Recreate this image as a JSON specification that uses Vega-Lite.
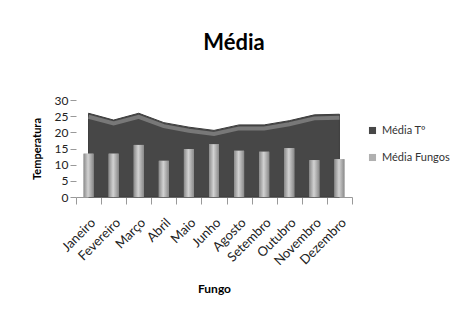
{
  "$schema": "https://vega.github.io/schema/vega-lite/v6.json",
  "width": 276,
  "height": 97,
  "autosize": {"type": "none"},
  "padding": {"left": 76, "top": 100, "right": 108, "bottom": 121},
  "background": "white",
  "config": {"font": "Lato", "view": {"stroke": null},
    "axisY": {"titleFontSize": 11, "titleFontWeight": "bold", "titleColor": "#000", "titlePadding": 12,
      "tickCount": 6, "labelOverlap": false, "labelFontSize": 12, "labelColor": "#222", "labelPadding": 2,
      "domain": false, "grid": false, "tickSize": 6, "tickColor": "#999"}},
  "title": {"text": "Média", "fontSize": 22, "fontWeight": "bold", "font": "Lato", "color": "#000", "offset": 39, "dx": 20},
  "data": {"values": [
    {"mes": "Janeiro", "temp": 25.9, "fungos": 13.4},
    {"mes": "Fevereiro", "temp": 23.8, "fungos": 13.4},
    {"mes": "Março", "temp": 25.9, "fungos": 16.1},
    {"mes": "Abril", "temp": 23.0, "fungos": 11.2},
    {"mes": "Maio", "temp": 21.6, "fungos": 14.8},
    {"mes": "Junho", "temp": 20.6, "fungos": 16.3},
    {"mes": "Agosto", "temp": 22.3, "fungos": 14.3},
    {"mes": "Setembro", "temp": 22.3, "fungos": 14.0},
    {"mes": "Outubro", "temp": 23.6, "fungos": 15.1},
    {"mes": "Novembro", "temp": 25.4, "fungos": 11.4},
    {"mes": "Dezembro", "temp": 25.6, "fungos": 11.7}
  ]},
  "encoding": {
    "x": {
      "field": "mes", "type": "nominal", "sort": null,
      "scale": {"paddingInner": 0, "paddingOuter": 0},
      "axis": {
        "title": "Fungo", "titleFontSize": 12, "titleFontWeight": "bold", "titleColor": "#000", "titlePadding": 16,
        "labelAngle": -45, "labelFontSize": 13, "labelColor": "#222", "labelPadding": 12,
        "tickBand": "extent", "tickSize": 7, "tickColor": "#999", "domainColor": "#999"
      }
    }
  },
  "layer": [
    {
      "mark": {"type": "area", "color": "#585858", "stroke": "#3c3c3c", "strokeWidth": 1},
      "encoding": {
        "y": {"field": "temp", "type": "quantitative", "scale": {"domain": [0, 30]}, "title": "Temperatura"},
        "color": {"datum": "Média Tº", "type": "nominal",
          "scale": {"domain": ["Média Tº", "Média Fungos"], "range": ["#474747", "#b0b0b0"]},
          "legend": {"title": null, "orient": "none", "legendX": 291, "legendY": 25, "symbolType": "square", "symbolSize": 50,
            "labelFontSize": 11, "labelColor": "#333", "rowPadding": 15, "symbolStrokeWidth": 0}
        }
      }
    },
    {
      "mark": {"type": "line", "color": "#787878", "strokeWidth": 4, "yOffset": 3.5},
      "encoding": {"y": {"field": "temp", "type": "quantitative", "title": "Temperatura"}}
    },
    {
      "mark": {"type": "bar", "width": 10},
      "encoding": {
        "y": {"field": "fungos", "type": "quantitative", "title": "Temperatura"},
        "color": {"datum": "Média Fungos", "type": "nominal"}
      }
    },
    {
      "mark": {"type": "bar", "width": 10,
        "fill": {"gradient": "linear", "x1": 0, "y1": 0, "x2": 1, "y2": 0,
          "stops": [{"offset": 0, "color": "#8a8a8a"}, {"offset": 0.45, "color": "#d2d2d2"}, {"offset": 1, "color": "#8a8a8a"}]}},
      "encoding": {"y": {"field": "fungos", "type": "quantitative", "title": "Temperatura"}}
    }
  ]
}
